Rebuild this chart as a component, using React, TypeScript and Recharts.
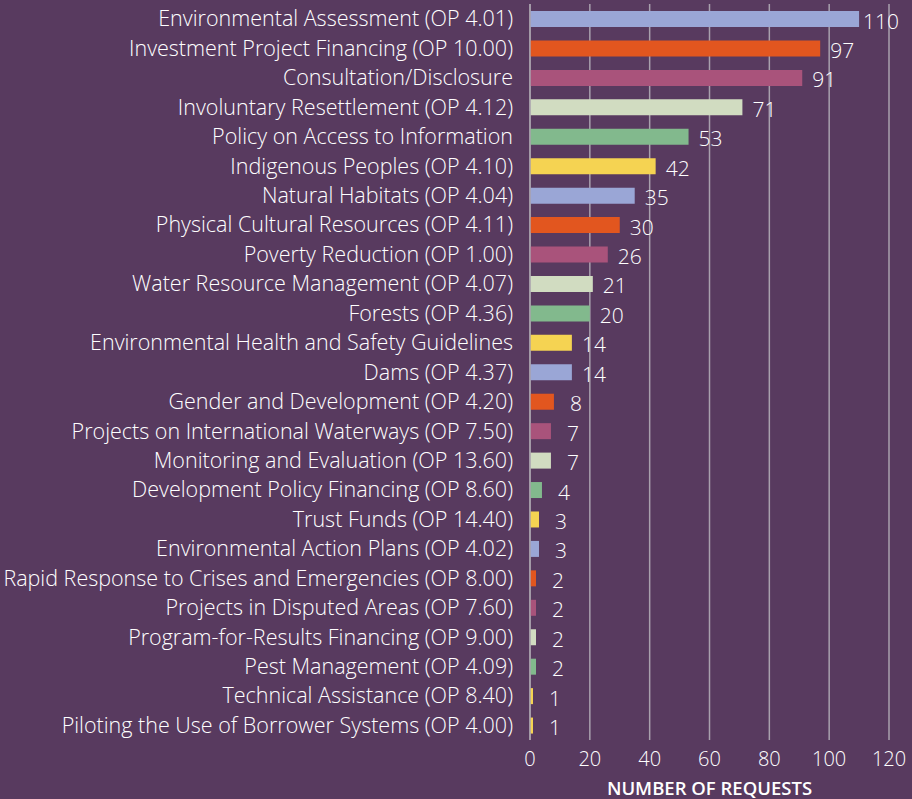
import { BarChart, Bar, XAxis, YAxis, CartesianGrid, Cell, LabelList } from "recharts";

// policies, top to bottom
const categories = [
  "Environmental Assessment (OP 4.01)",
  "Investment Project Financing (OP 10.00)",
  "Consultation/Disclosure",
  "Involuntary Resettlement (OP 4.12)",
  "Policy on Access to Information",
  "Indigenous Peoples (OP 4.10)",
  "Natural Habitats (OP 4.04)",
  "Physical Cultural Resources (OP 4.11)",
  "Poverty Reduction (OP 1.00)",
  "Water Resource Management (OP 4.07)",
  "Forests (OP 4.36)",
  "Environmental Health and Safety Guidelines",
  "Dams (OP 4.37)",
  "Gender and Development (OP 4.20)",
  "Projects on International Waterways (OP 7.50)",
  "Monitoring and Evaluation (OP 13.60)",
  "Development Policy Financing (OP 8.60)",
  "Trust Funds (OP 14.40)",
  "Environmental Action Plans (OP 4.02)",
  "Rapid Response to Crises and Emergencies (OP 8.00)",
  "Projects in Disputed Areas (OP 7.60)",
  "Program-for-Results Financing (OP 9.00)",
  "Pest Management (OP 4.09)",
  "Technical Assistance (OP 8.40)",
  "Piloting the Use of Borrower Systems (OP 4.00)",
];

const requests = [110, 97, 91, 71, 53, 42, 35, 30, 26, 21, 20, 14, 14, 8, 7, 7, 4, 3, 3, 2, 2, 2, 2, 1, 1];

const xTicks = [0, 20, 40, 60, 80, 100, 120];

const LAV = "#9aa6d6";
const ORA = "#e2561f";
const MAU = "#a9537b";
const PAL = "#d1dcc1";
const GRN = "#82b98d";
const YEL = "#f5d352";

// one colour per bar (the cycle repeats, last two are both yellow)
const barColors = [
  LAV, ORA, MAU, PAL, GRN, YEL,
  LAV, ORA, MAU, PAL, GRN, YEL,
  LAV, ORA, MAU, PAL, GRN, YEL,
  LAV, ORA, MAU, PAL, GRN, YEL,
  YEL,
];

const data = categories.map((name, i) => ({ name, value: requests[i] }));

const FONT = "'Open Sans', 'Noto Sans', sans-serif";
const BG = "#583a5f";

// value label, centred a little past the end of the bar
function ValueLabel(props: any) {
  const { x, y, width, height, value } = props;
  return (
    <text
      x={x + width + 22}
      y={y + height / 2 + 1.5}
      textAnchor="middle"
      dominantBaseline="central"
      fill="#ffffff"
      fontSize={21}
      fontWeight={300}
      fontFamily={FONT}
    >
      {value}
    </text>
  );
}

export default function App() {
  return (
    <div style={{ position: "fixed", left: 0, top: 0, width: 912, height: 799, background: BG }}>
      <BarChart
        width={912}
        height={799}
        data={data}
        layout="vertical"
        margin={{ top: 4, right: 23, bottom: 0, left: 0 }}
      >
        <CartesianGrid horizontal={false} stroke="#a8a0ad" strokeWidth={1.5} />
        <XAxis
          type="number"
          domain={[0, 120]}
          ticks={xTicks}
          axisLine={false}
          tickLine={false}
          tickSize={0}
          tickMargin={12}
          height={59}
          tick={{ fill: "#ffffff", fontSize: 20, fontWeight: 300, fontFamily: FONT }}
          label={{
            value: "NUMBER OF REQUESTS",
            position: "insideBottom",
            offset: 4,
            fill: "#ffffff",
            fontSize: 18.5,
            fontWeight: 600,
            fontFamily: FONT,
          }}
        />
        <YAxis
          type="category"
          dataKey="name"
          width={530}
          interval={0}
          axisLine={{ stroke: "#a8a0ad", strokeWidth: 1.5 }}
          tickLine={false}
          tickSize={0}
          tickMargin={17}
          tick={{ fill: "#ffffff", fontSize: 21.5, fontWeight: 300, fontFamily: FONT }}
        />
        <Bar dataKey="value" barSize={16} isAnimationActive={false}>
          {data.map((_, i) => (
            <Cell key={i} fill={barColors[i]} />
          ))}
          <LabelList dataKey="value" content={ValueLabel} />
        </Bar>
      </BarChart>
    </div>
  );
}
